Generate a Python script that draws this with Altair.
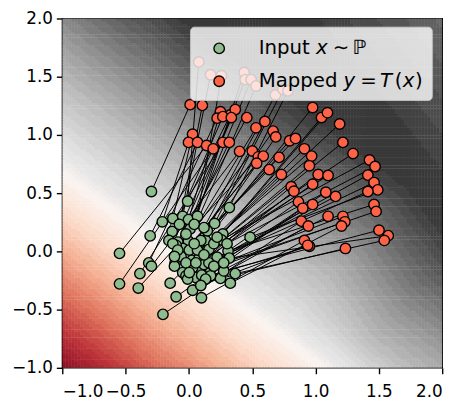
import numpy as np
import pandas as pd
import altair as alt

alt.data_transformers.disable_max_rows()

# ---------------- data ----------------
green_x = [-0.296, -0.010, 0.319, -0.210, -0.127, -0.049, -0.003, 0.068, 0.203, 0.008,
           -0.132, -0.306, 0.483, 0.268, 0.257, -0.158, -0.088, -0.003, 0.075, 0.132,
           -0.548, -0.049, 0.158, 0.309, 0.223, 0.023, -0.109, -0.317, -0.296, -0.387,
           -0.049, 0.081, 0.171, 0.319, 0.249, 0.366, -0.548, -0.400, -0.148, -0.023,
           0.055, 0.101, 0.327, 0.029, -0.101, 0.099, -0.205, -0.062, 0.003, 0.081,
           0.119, 0.029, -0.114, -0.075, 0.275, 0.301, 0.197, -0.023, 0.094, -0.101,
           0.158, -0.010, 0.171, 0.068, -0.127, 0.042, 0.119, -0.023, 0.055, 0.197,
           -0.088, 0.223, 0.145, 0.042, 0.119, 0.003, 0.132, 0.275, -0.114, 0.094]
green_y = [0.514, 0.431, 0.376, 0.254, 0.282, 0.301, 0.273, 0.301, 0.240, 0.191,
           0.171, 0.133, 0.122, 0.149, 0.099, 0.094, 0.080, 0.088, 0.061, 0.094,
           -0.017, 0.025, 0.017, 0.003, -0.050, -0.077, -0.099, -0.099, -0.127, -0.191,
           -0.182, -0.155, -0.155, -0.058, -0.232, -0.191, -0.279, -0.315, -0.273, -0.210,
           -0.224, -0.204, -0.273, -0.334, -0.390, -0.398, -0.541, -0.044, 0.011, -0.058,
           -0.113, -0.141, -0.127, 0.232, -0.168, 0.066, 0.066, 0.149, 0.094, 0.052,
           -0.099, -0.238, -0.210, 0.011, 0.066, 0.066, -0.030, -0.099, -0.099, -0.127,
           0.011, 0.122, 0.177, 0.232, 0.204, -0.182, -0.238, -0.099, -0.044, -0.293]

red_x = [0.078, 0.171, 0.257, 0.436, 0.444, 0.491, 0.530, 0.683, 0.743, 0.782,
         0.010, 0.106, 0.249, 0.223, 0.327, 0.366, 0.268, 0.335, 0.457, 0.600,
         0.530, 0.665, 0.686, 0.795, 0.842, 0.977, 1.047, 1.094, 1.190, 0.029,
         -0.003, 0.068, 0.140, 0.192, 0.268, 0.319, 0.400, 0.501, 0.548, 0.587,
         0.535, 0.712, 0.912, 0.969, 1.216, 1.296, 0.634, 0.730, 0.808, 0.829,
         0.951, 0.977, 1.021, 1.099, 1.081, 1.158, 0.865, 0.899, 0.977, 1.099,
         1.216, 1.231, 1.205, 0.888, 0.943, 0.912, 0.951, 1.236, 1.426, 1.470,
         1.413, 1.462, 1.491, 1.413, 1.462, 1.478, 1.501, 1.574, 1.543, 0.938]
red_y = [1.627, 1.517, 1.508, 1.536, 1.475, 1.475, 1.420, 1.343, 1.392, 1.378,
         1.260, 1.254, 1.199, 1.144, 1.171, 1.218, 1.157, 1.149, 1.149, 1.116,
         1.061, 1.033, 0.983, 0.950, 0.970, 1.235, 1.149, 1.191, 1.094, 1.006,
         0.936, 0.936, 0.909, 0.881, 0.936, 0.936, 0.859, 0.862, 0.812, 0.818,
         0.757, 0.807, 0.881, 0.818, 0.936, 0.840, 0.702, 0.660, 0.555, 0.517,
         0.735, 0.577, 0.660, 0.652, 0.508, 0.472, 0.425, 0.370, 0.403, 0.301,
         0.301, 0.254, 0.218, 0.260, 0.218, 0.094, 0.044, 0.025, 0.785, 0.729,
         0.655, 0.591, 0.528, 0.514, 0.403, 0.343, 0.182, 0.135, 0.094, 0.052]

tick_values = [-1.0, -0.5, 0.0, 0.5, 1.0, 1.5, 2.0]
domain = [-1.0, 2.0]

# ---------------- pairing input -> mapped (order along the fan) ----------------
gx, gy = np.array(green_x), np.array(green_y)
rx, ry = np.array(red_x), np.array(red_y)
n = min(len(gx), len(rx))
g_order = np.argsort(gx - gy)[:n]
r_order = np.argsort(-np.arctan2(ry + 0.1, rx - 0.1))[:n]
pairs = []
block = 8
for s in range(0, n, block):
    gb = g_order[s:s + block]
    rb = r_order[s:s + block]
    gb = gb[np.argsort(gx[gb] + gy[gb])]
    rb = rb[np.argsort(np.hypot(rx[rb] - 0.1, ry[rb] + 0.1))]
    pairs += list(zip(gb, rb))
links = pd.DataFrame({
    "x": [gx[a] for a, b in pairs], "y": [gy[a] for a, b in pairs],
    "x2": [rx[b] for a, b in pairs], "y2": [ry[b] for a, b in pairs],
})
pts_in = pd.DataFrame({"x": gx, "y": gy})
pts_out = pd.DataFrame({"x": rx, "y": ry})

# ---------------- background potential (approximate field) ----------------
N = 128
edges = np.linspace(domain[0], domain[1], N + 1)
cell = edges[1] - edges[0]
cen = (edges[:-1] + edges[1:]) / 2
X, Y = np.meshgrid(cen, cen)
d = 0.628 * (X + 1.0) + 0.778 * (Y - 0.67)
t = 0.778 * X - 0.628 * Y
d = d + 0.18 * np.clip((t - 1.0) / 0.6, 0, 1) * np.clip(d / 0.4, 0, 1)
rise = np.where(d < 0, 0.5 + 0.385 * d, 0.5 + 0.27 * d + 0.05 * np.tanh(d / 0.12))
ridge = 1.0 - 0.11 * np.maximum(0, 0.8 * (X - 0.8) + 0.6 * (Y - 2.0))
k = 0.012
v = -k * np.logaddexp(-rise / k, -ridge / k)
v = np.clip(v, 0, 0.999)
v = np.floor(v / 0.02) * 0.02 + 0.01
XL, YL = np.meshgrid(edges[:-1], edges[:-1])
field = pd.DataFrame({
    "x0": XL.ravel(), "x1": (XL + cell * 1.15).ravel(),
    "y0": YL.ravel(), "y1": (YL + cell * 1.15).ravel(),
    "v": v.ravel(),
})

FONT = "DejaVu Sans"
xs = alt.Scale(domain=domain, nice=False, zero=False)
ys = alt.Scale(domain=domain, nice=False, zero=False)
xaxis = alt.Axis(values=tick_values, format=".1f", title="", labelPadding=10)
yaxis = alt.Axis(values=tick_values, format=".1f", title="", labelPadding=4)

bg = alt.Chart(field).mark_rect(clip=True, strokeWidth=0).encode(
    x=alt.X("x0:Q", scale=xs, axis=xaxis),
    x2="x1:Q",
    y=alt.Y("y0:Q", scale=ys, axis=yaxis),
    y2="y1:Q",
    color=alt.Color("v:Q", scale=alt.Scale(scheme="redgrey", domain=[0, 1]), legend=None),
)

lines = alt.Chart(links).mark_rule(color="black", strokeWidth=1.0).encode(
    x=alt.X("x:Q", scale=xs), y=alt.Y("y:Q", scale=ys), x2="x2:Q", y2="y2:Q"
)

MS = 112
green = alt.Chart(pts_in).mark_circle(
    size=MS, color="#8fbc8f", stroke="black", strokeWidth=1.4, opacity=1
).encode(x=alt.X("x:Q", scale=xs), y=alt.Y("y:Q", scale=ys))

red = alt.Chart(pts_out).mark_circle(
    size=MS, color="#ff6347", stroke="black", strokeWidth=1.4, opacity=1
).encode(x=alt.X("x:Q", scale=xs), y=alt.Y("y:Q", scale=ys))

one = pd.DataFrame({"a": [0]})
legend_box = alt.Chart(one).mark_rect(
    fill="white", fillOpacity=0.8, stroke="#cccccc", strokeOpacity=0.8,
    strokeWidth=1, cornerRadius=4
).encode(x=alt.value(130), x2=alt.value(375), y=alt.value(8.8), y2=alt.value(83.1))

leg_g = alt.Chart(one).mark_circle(
    size=MS, color="#8fbc8f", stroke="black", strokeWidth=1.4, opacity=1
).encode(x=alt.value(159), y=alt.value(30.3))
leg_r = alt.Chart(one).mark_circle(
    size=MS, color="#ff6347", stroke="black", strokeWidth=1.4, opacity=1
).encode(x=alt.value(159), y=alt.value(63.6))


def seg(txt, px, py, italic=False):
    kw = dict(align="left", baseline="alphabetic", font=FONT, fontSize=20, color="black")
    if italic:
        kw["fontStyle"] = "italic"
    return alt.Chart(one).mark_text(**kw).encode(
        x=alt.value(px), y=alt.value(py), text=alt.value(txt)
    )


b1, b2 = 36.2, 69.4
legend_text = [
    seg("Input", 199, b1), seg("x", 257, b1, True), seg("\u223c", 274, b1), seg("\u2119", 294, b1),
    seg("Mapped", 199, b2), seg("y", 285, b2, True), seg("=", 302, b2), seg("T", 322, b2, True),
    seg("(", 337, b2), seg("x", 345, b2, True), seg(")", 357.5, b2),
]

chart = alt.layer(bg, lines, green, red, legend_box, leg_g, leg_r, *legend_text).properties(
    width=385, height=354,
    padding={"left": 55, "top": 8, "right": 14, "bottom": 31},
    autosize=alt.AutoSizeParams(type="none"),
    background="white",
).configure_view(
    stroke="black", strokeWidth=1.4
).configure_axis(
    grid=False, domain=False, ticks=True, tickColor="black", tickWidth=1.4, tickSize=6,
    labelFont=FONT, labelFontSize=17, labelColor="black",
)

chart.save("out.html", embed_options={"renderer": "svg", "actions": False})
